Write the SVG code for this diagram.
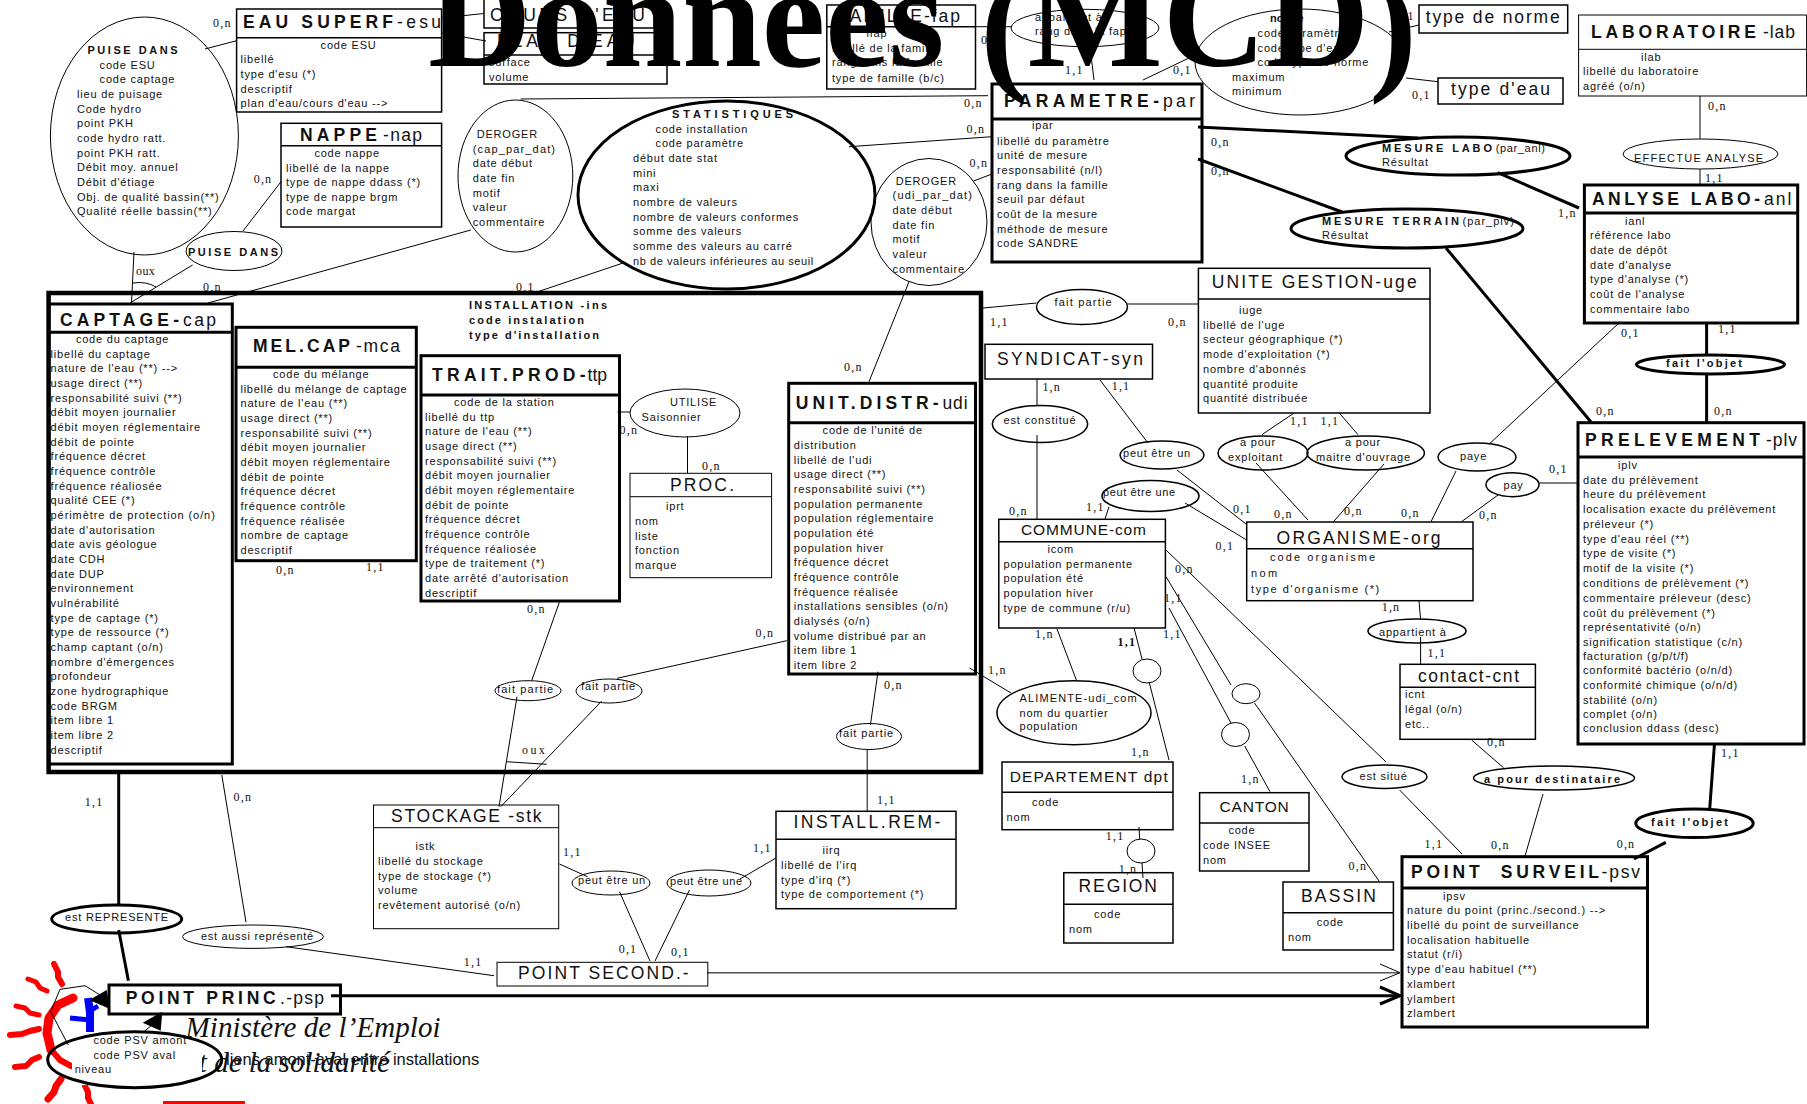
<svg xmlns="http://www.w3.org/2000/svg" width="1807" height="1104" viewBox="0 0 1807 1104">
<style>
text{font-family:"Liberation Sans",Arial,sans-serif;fill:#111}
.b{font-size:11px;letter-spacing:.8px}
.bb{font-size:11px;font-weight:bold}
.h{font-size:17.5px}
.hs{font-size:15.5px}
.hb{font-size:17.5px;font-weight:bold}
.c{font-family:"Liberation Serif","Times New Roman",serif;font-size:12px;letter-spacing:1.2px}
.s1,.s2,.s3,.s4{fill:none;stroke:#000}
.s1{stroke-width:1}
.s2{stroke-width:1.5}
.s3{stroke-width:3}
.s4{stroke-width:4.5}
.g{fill:none;stroke:#555;stroke-width:1.5}
.r{fill:none;stroke:#f00;stroke-linecap:round;stroke-linejoin:round}
</style>
<rect width="1807" height="1104" fill="#fff"/>

<g id="logo">
<polyline class="r" stroke-width="9" points="73,998 58,1005 49,1018 47,1033 51,1050"/>
<polyline class="r" stroke-width="6" points="54,964 58,972 58,977 62,984"/>
<polyline class="r" stroke-width="5" points="28,979 36,982 40,988 47,991"/>
<polyline class="r" stroke-width="5" points="16,1006 25,1008 30,1013 39,1015"/>
<polyline class="r" stroke-width="6" points="10,1035 22,1034 30,1031 39,1029"/>
<polyline class="r" stroke-width="6" points="15,1067 26,1066 32,1060 39,1057"/>
<polyline class="r" stroke-width="7" points="48,1099 54,1092 56,1086 61,1079"/>
<polyline class="r" stroke-width="6" points="85,1086 88,1092 88,1098 91,1104"/>
<polyline class="r" stroke-width="6" points="53,1052 60,1060 71,1066"/>
<rect x="163" y="1101" width="82" height="3" fill="#f00"/>
<polyline fill="none" stroke="#00f" stroke-width="8" points="88,998 90,1012 90,1032"/>
<polyline fill="none" stroke="#00f" stroke-width="5" points="70,1018 90,1020"/>
<polyline fill="none" stroke="#00f" stroke-width="5" points="90,1011 98,1006"/>
</g>
<text x="185.6" y="1036.7" font-size="29" font-style="italic" style="font-family:'Liberation Serif',serif" textLength="255">Ministère de l’Emploi</text>
<text x="186" y="1072" font-size="29" font-style="italic" style="font-family:'Liberation Serif',serif">et de la solidarité</text>

<g id="connectors">
<line class="s1" x1="205" y1="49" x2="236.6" y2="40.7"/>
<line class="s1" x1="441" y1="18" x2="484" y2="13.5"/>
<line class="s1" x1="441" y1="33" x2="486" y2="41"/>
<line class="s1" x1="243" y1="231" x2="281" y2="181.7"/>
<line class="s1" x1="134" y1="252" x2="131.5" y2="303"/>
<line class="s1" x1="192.6" y1="265" x2="130" y2="303"/>
<path class="s1" d="M133 283Q146 281 156 287"/>
<line class="s1" x1="470.8" y1="230" x2="208" y2="303"/>
<line class="s1" x1="520.6" y1="99" x2="988" y2="95.7"/>
<line class="s1" x1="849" y1="146.7" x2="992" y2="136.7"/>
<line class="s1" x1="623" y1="263" x2="537" y2="292"/>
<line class="s1" x1="973.5" y1="181" x2="992" y2="174"/>
<line class="s1" x1="909" y1="281.7" x2="869" y2="381.7"/>
<line class="s1" x1="975.5" y1="26.7" x2="1012" y2="26.7"/>
<line class="s1" x1="1090" y1="47" x2="1094" y2="80"/>
<line class="s1" x1="1143" y1="80" x2="1191" y2="57"/>
<line class="s1" x1="1389" y1="32" x2="1419" y2="25"/>
<line class="s1" x1="1406" y1="78" x2="1438" y2="81.7"/>
<line class="s3" x1="1198" y1="127" x2="1418" y2="138"/>
<line class="s3" x1="1497.7" y1="172.7" x2="1579" y2="208"/>
<line class="s3" x1="1198" y1="159" x2="1342" y2="212"/>
<line class="s3" x1="1446" y1="248" x2="1591" y2="422"/>
<line class="s1" x1="1700" y1="96" x2="1700" y2="139"/>
<line class="s1" x1="1700" y1="169" x2="1700" y2="185"/>
<line class="s3" x1="1706.6" y1="323" x2="1706.6" y2="355"/>
<line class="s3" x1="1706.6" y1="374" x2="1706.6" y2="422"/>
<line class="s1" x1="1620" y1="322" x2="1490" y2="443.3"/>
<line class="s1" x1="983" y1="308" x2="1036.6" y2="303"/>
<line class="s1" x1="1127" y1="304" x2="1198" y2="304"/>
<line class="s1" x1="1037" y1="379" x2="1037" y2="405.7"/>
<line class="g" x1="1037" y1="435" x2="1037" y2="519"/>
<line class="s1" x1="1100" y1="380" x2="1148" y2="443"/>
<line class="s1" x1="1109" y1="506.7" x2="1105" y2="519"/>
<line class="s1" x1="1177" y1="470" x2="1246" y2="524"/>
<line class="s1" x1="1185" y1="503" x2="1246.7" y2="540"/>
<line class="s1" x1="1294.5" y1="412.7" x2="1262" y2="434.7"/>
<line class="s1" x1="1339" y1="412.7" x2="1358" y2="434.7"/>
<line class="s1" x1="1256" y1="463" x2="1308" y2="520"/>
<line class="s1" x1="1384" y1="464" x2="1333.5" y2="521.7"/>
<line class="s1" x1="1456" y1="471" x2="1431" y2="521.7"/>
<line class="s1" x1="1539" y1="483" x2="1577" y2="483"/>
<line class="s1" x1="1498" y1="495" x2="1461.5" y2="521.7"/>
<line class="s1" x1="1419" y1="600.7" x2="1420.6" y2="619.3"/>
<line class="s1" x1="1420.6" y1="637" x2="1420.6" y2="664"/>
<line class="s1" x1="1166" y1="550" x2="1386" y2="762"/>
<line class="s1" x1="1399.6" y1="790" x2="1462" y2="854"/>
<line class="s1" x1="1166" y1="576.7" x2="1231" y2="685"/>
<line class="s1" x1="1254.5" y1="703" x2="1379" y2="881"/>
<line class="s1" x1="1169" y1="608" x2="1231" y2="723"/>
<line class="s1" x1="1244.7" y1="746" x2="1270" y2="791.7"/>
<line class="s1" x1="1134" y1="627.7" x2="1142" y2="659"/>
<line class="s1" x1="1149.4" y1="683" x2="1169" y2="760"/>
<line class="s1" x1="1139" y1="827" x2="1139.7" y2="839"/>
<line class="s1" x1="1142" y1="863" x2="1143" y2="878"/>
<line class="s1" x1="1057" y1="629" x2="1076.6" y2="680.7"/>
<line class="s1" x1="969.6" y1="668" x2="1011" y2="693"/>
<line class="s1" x1="1471.6" y1="740" x2="1503.5" y2="767.7"/>
<line class="s1" x1="1543" y1="794" x2="1525" y2="856"/>
<line class="s3" x1="1714.4" y1="745" x2="1709.7" y2="809"/>
<line class="s3" x1="1665.8" y1="842.3" x2="1634" y2="859"/>
<line class="s1" x1="617.5" y1="412" x2="630" y2="412"/>
<line class="s1" x1="687.5" y1="436" x2="687.5" y2="473"/>
<line class="s1" x1="559.5" y1="601.7" x2="531.7" y2="680.7"/>
<line class="s1" x1="517" y1="696.7" x2="499" y2="806.7"/>
<line class="s1" x1="617" y1="678.3" x2="786.8" y2="640.7"/>
<line class="s1" x1="601.7" y1="701" x2="500.8" y2="806.7"/>
<path class="s1" d="M506 761.7L546.7 764.3"/>
<line class="s1" x1="878" y1="671.7" x2="870.4" y2="725"/>
<line class="g" x1="867.3" y1="750" x2="867.3" y2="811.7"/>
<line class="s1" x1="776" y1="858" x2="740" y2="879"/>
<line class="s1" x1="689.5" y1="890" x2="655" y2="961"/>
<line class="s1" x1="619.5" y1="891.7" x2="650" y2="961"/>
<line class="s1" x1="559.5" y1="864" x2="587.5" y2="876.7"/>
<line class="s3" x1="118.7" y1="772" x2="118.7" y2="905"/>
<line class="s3" x1="118.7" y1="930" x2="128.4" y2="980.7"/>
<line class="s1" x1="221.8" y1="775" x2="246" y2="922.3"/>
<line class="s1" x1="286" y1="946.7" x2="494" y2="975.7"/>
<line class="g" x1="707" y1="972.7" x2="1400" y2="972.7"/>
<polyline class="s1" points="1380,964 1400,972.7 1380,981"/>
<line class="s3" x1="331" y1="995.7" x2="1400" y2="995.7"/>
<polyline class="s3" points="1380,987 1400,995.7 1380,1004"/>
<polyline class="s1" points="68.3,1045 50.7,1011.7 60,989.3 85,985.7 100,995"/>
<polygon fill="#000" points="89.3,1000 106.7,990 110,1009"/>
<polygon fill="#000" points="162.3,1011.7 142.7,1022.7 160.7,1030.7"/>
<line class="s1" x1="144" y1="1031.7" x2="152" y2="1025"/>
</g>

<g id="cardinalities" class="c">
<text class="c" x="213" y="27">0,n</text><text class="c" x="253.7" y="183">0,n</text>
<text class="c" x="136" y="275" textLength="20">oux</text><text class="c" x="203" y="291">0,n</text><text class="c" x="516" y="291">0,1</text>
<text class="c" x="981" y="44">0,1</text><text class="c" x="1065" y="74">1,1</text><text class="c" x="1173" y="74">0,1</text>
<text class="c" x="1396" y="20">0,1</text><text class="c" x="1412" y="99">0,1</text>
<text class="c" x="964" y="107">0,n</text><text class="c" x="966.5" y="133">0,n</text><text class="c" x="969.6" y="167">0,n</text>
<text class="c" x="1211" y="146">0,n</text><text class="c" x="1211" y="175">0,n</text>
<text class="c" x="1708" y="110">0,n</text><text class="c" x="1705" y="182">1,1</text><text class="c" x="1558" y="217">1,n</text>
<text class="c" x="1621" y="337">0,1</text><text class="c" x="1718" y="333">1,1</text>
<text class="c" x="1596" y="415">0,n</text><text class="c" x="1714" y="415">0,n</text>
<text class="c" x="990" y="326">1,1</text><text class="c" x="1168" y="326">0,n</text>
<text class="c" x="844" y="371">0,n</text><text class="c" x="1042.4" y="391">1,n</text><text class="c" x="1111.7" y="390">1,1</text>
<text class="c" x="1290" y="425">1,1</text><text class="c" x="1320.6" y="425">1,1</text>
<text class="c" x="619.5" y="434">0,n</text><text class="c" x="702" y="470">0,n</text>
<text class="c" x="1009" y="515">0,n</text><text class="c" x="1086" y="511">1,1</text>
<text class="c" x="1233" y="513">0,1</text><text class="c" x="1215.6" y="550">0,1</text>
<text class="c" x="1274" y="518">0,n</text><text class="c" x="1344" y="515">0,n</text><text class="c" x="1401" y="517">0,n</text>
<text class="c" x="1549" y="473">0,1</text><text class="c" x="1479" y="519">0,n</text>
<text class="c" x="1175" y="573">0,n</text><text class="c" x="1164" y="602">1,1</text><text class="c" x="1163" y="638">1,1</text>
<text class="c" x="1035" y="638">1,n</text><text class="c" x="1117.5" y="646" font-weight="bold">1,1</text>
<text class="c" x="988" y="674">1,n</text><text class="c" x="1131" y="756">1,n</text>
<text class="c" x="1381.7" y="611">1,n</text><text class="c" x="1427.6" y="657">1,1</text>
<text class="c" x="276" y="574">0,n</text><text class="c" x="366" y="571">1,1</text><text class="c" x="527" y="613">0,n</text>
<text class="c" x="755.6" y="637">0,n</text><text class="c" x="884" y="689">0,n</text><text class="c" x="877" y="804">1,1</text>
<text class="c" x="522" y="754" textLength="24">oux</text>
<text class="c" x="84.8" y="806">1,1</text><text class="c" x="233.5" y="801">0,n</text><text class="c" x="463.8" y="966">1,1</text>
<text class="c" x="563" y="856">1,1</text><text class="c" x="753" y="852">1,1</text>
<text class="c" x="618.7" y="953">0,1</text><text class="c" x="671" y="956">0,1</text>
<text class="c" x="1105.8" y="840">1,1</text><text class="c" x="1118.7" y="873">1,n</text>
<text class="c" x="1241" y="783">1,n</text><text class="c" x="1348.6" y="870">0,n</text>
<text class="c" x="1487" y="746">0,n</text><text class="c" x="1721" y="757">1,1</text>
<text class="c" x="1424.5" y="848">1,1</text><text class="c" x="1491" y="849">0,n</text><text class="c" x="1616.7" y="848">0,n</text>
</g>

<g id="installation">
<rect class="s4" x="48.6" y="293" width="932.4" height="479"/>
<text class="bb" x="469" y="308.7" textLength="138">INSTALLATION -ins</text>
<text class="bb" x="469" y="324" textLength="115">code instalation</text>
<text class="bb" x="469" y="339" textLength="130">type d'installation</text>
</g>

<g id="puise-dans-assoc">
<ellipse class="s1" cx="144.4" cy="136" rx="94" ry="119"/>
<text class="bb" x="87.5" y="54" textLength="90">PUISE DANS</text>
<text class="b" x="99.6" y="69">code ESU</text><text class="b" x="99.6" y="83">code captage</text>
<text class="b" x="77" y="98">lieu de puisage</text><text class="b" x="77" y="112.7">Code hydro</text><text class="b" x="77" y="127">point PKH</text>
<text class="b" x="77" y="142">code hydro ratt.</text><text class="b" x="77" y="157">point PKH ratt.</text><text class="b" x="77" y="171">Débit moy. annuel</text>
<text class="b" x="77" y="186">Débit d'étiage</text><text class="b" x="77" y="201">Obj. de qualité bassin(**)</text><text class="b" x="77" y="215">Qualité réelle bassin(**)</text>
</g>
<g id="puise-dans-small">
<ellipse class="s1" cx="234" cy="251" rx="48" ry="19.5"/>
<text class="bb" x="188" y="256" textLength="90">PUISE DANS</text>
</g>

<g id="eau-superf">
<rect class="s2" x="236.6" y="9" width="205" height="103"/><line class="s2" x1="236.6" y1="37.7" x2="441.6" y2="37.7"/>
<text class="hb" x="243" y="28" textLength="150">EAU SUPERF</text><text class="h" x="397" y="28" textLength="44">-esu</text>
<text class="b" x="320.6" y="49">code ESU</text><text class="b" x="240.6" y="63">libellé</text><text class="b" x="240.6" y="78">type d'esu (*)</text>
<text class="b" x="240.6" y="93">descriptif</text><text class="b" x="240.6" y="107">plan d'eau/cours d'eau --&gt;</text>
</g>
<g id="cours-eau">
<path class="s2" d="M484 0V28H654V0"/>
<text class="h" x="490" y="21" textLength="155">COURS D'EAU</text>
</g>
<g id="plan-eau">
<rect class="s2" x="484" y="32.7" width="183" height="51.3"/><line class="s2" x1="484" y1="55" x2="667" y2="55"/>
<text class="h" x="497" y="47" textLength="138">PLAN D'EAU</text>
<text class="b" x="489" y="66">surface</text><text class="b" x="489" y="81">volume</text>
</g>
<g id="nappe">
<rect class="s2" x="281" y="123.3" width="160.6" height="103.7"/><line class="s2" x1="281" y1="145.7" x2="441.6" y2="145.7"/>
<text class="hb" x="300" y="141" textLength="77">NAPPE</text><text class="h" x="383" y="141" textLength="39">-nap</text>
<text class="b" x="314.4" y="157">code nappe</text><text class="b" x="286" y="171.7">libellé de la nappe</text>
<text class="b" x="286" y="186" textLength="135">type de nappe ddass (*)</text><text class="b" x="286" y="201">type de nappe brgm</text><text class="b" x="286" y="215">code margat</text>
</g>
<g id="deroger-cap">
<ellipse class="s1" cx="515.4" cy="176" rx="57.4" ry="76"/>
<text class="b" x="476.7" y="137.7">DEROGER</text><text class="b" x="472.8" y="153" textLength="83">(cap_par_dat)</text><text class="b" x="472.8" y="167">date début</text>
<text class="b" x="472.8" y="182">date fin</text><text class="b" x="472.8" y="196.7">motif</text><text class="b" x="472.8" y="211">valeur</text><text class="b" x="472.8" y="226">commentaire</text>
</g>
<g id="statistiques">
<ellipse class="s3" cx="726.5" cy="195" rx="148.5" ry="94"/>
<text class="bb" x="672" y="118" textLength="121">STATISTIQUES</text>
<text class="b" x="655.6" y="132.7">code installation</text><text class="b" x="655.6" y="147">code paramètre</text>
<text class="b" x="633" y="161.7">début date stat</text><text class="b" x="633" y="176.7">mini</text><text class="b" x="633" y="191">maxi</text>
<text class="b" x="633" y="206">nombre de valeurs</text><text class="b" x="633" y="220.7" textLength="166">nombre de valeurs conformes</text><text class="b" x="633" y="235">somme des valeurs</text>
<text class="b" x="633" y="249.7">somme des valeurs au carré</text><text class="b" x="633" y="265" textLength="181">nb de valeurs inférieures au seuil</text>
</g>
<g id="famille">
<rect class="s2" x="826.8" y="5" width="148.7" height="84"/><line class="s2" x1="826.8" y1="26.7" x2="975.5" y2="26.7"/>
<text class="h" x="838" y="21.7" textLength="122">FAMILLE-fap</text>
<text class="b" x="866.5" y="37">ifap</text><text class="b" x="832" y="52">libellé de la famille</text>
<text class="b" x="832" y="66">rang dans la famille</text><text class="b" x="832" y="82">type de famille (b/c)</text>
</g>
<g id="appartient-a-fap">
<ellipse class="s1" cx="1085" cy="28" rx="74" ry="18.7"/>
<text class="b" x="1035" y="20.7">appartient à:</text><text class="b" x="1035" y="35">rang dans la fap</text>
</g>
<g id="parametre">
<rect class="s3" x="992" y="84" width="210" height="178"/><line class="s3" x1="992" y1="119" x2="1202" y2="119"/>
<text class="hb" x="1004" y="107" textLength="155">PARAMETRE-</text><text class="h" x="1163" y="107" textLength="32">par</text>
<text class="b" x="1032" y="129">ipar</text><text class="b" x="997" y="145">libellé du paramètre</text><text class="b" x="997" y="159">unité de mesure</text>
<text class="b" x="997" y="174">responsabilité (n/l)</text><text class="b" x="997" y="189">rang dans la famille</text><text class="b" x="997" y="203">seuil par défaut</text>
<text class="b" x="997" y="218">coût de la mesure</text><text class="b" x="997" y="232.7">méthode de mesure</text><text class="b" x="997" y="247">code SANDRE</text>
</g>
<g id="deroger-udi">
<ellipse class="s1" cx="929" cy="222" rx="58" ry="63.5"/>
<text class="b" x="895.7" y="185">DEROGER</text><text class="b" x="892.6" y="199" textLength="80">(udi_par_dat)</text><text class="b" x="892.6" y="214">date début</text>
<text class="b" x="892.6" y="229">date fin</text><text class="b" x="892.6" y="243">motif</text><text class="b" x="892.6" y="257.7">valeur</text><text class="b" x="892.6" y="272.7">commentaire</text>
</g>
<g id="norme">
<ellipse class="s1" cx="1300" cy="62" rx="105" ry="53"/>
<text class="bb" x="1270" y="22">norme</text>
<text class="b" x="1257.6" y="37">code paramètre</text><text class="b" x="1257.6" y="52">code type d'eau</text><text class="b" x="1257.6" y="66">code type de norme</text>
<text class="b" x="1232" y="81">maximum</text><text class="b" x="1232" y="95">minimum</text>
</g>
<g id="type-norme">
<rect class="s2" x="1419" y="5" width="148.7" height="28"/>
<text class="h" x="1425.7" y="22.7" textLength="134">type de norme</text>
</g>
<g id="type-eau">
<rect class="s2" x="1438" y="78" width="125" height="26"/>
<text class="h" x="1451" y="95" textLength="99">type d'eau</text>
</g>
<g id="laboratoire">
<rect class="s1" x="1578.6" y="15" width="228" height="81"/><line class="s1" x1="1578.6" y1="49.3" x2="1807" y2="49.3"/>
<text class="hb" x="1591" y="38" textLength="165">LABORATOIRE</text><text class="h" x="1763" y="38" textLength="32">-lab</text>
<text class="b" x="1641" y="61">ilab</text><text class="b" x="1583" y="75">libellé du laboratoire</text><text class="b" x="1583" y="90">agréé (o/n)</text>
</g>
<g id="effectue-analyse">
<ellipse class="s1" cx="1700.5" cy="154" rx="77.5" ry="15"/>
<text class="b" x="1634" y="162" textLength="130">EFFECTUE ANALYSE</text>
</g>
<g id="mesure-labo">
<ellipse class="s3" cx="1458" cy="156" rx="112" ry="19"/>
<text class="bb" x="1382" y="152" textLength="110">MESURE LABO</text><text class="b" x="1495.7" y="152" textLength="50">(par_anl)</text>
<text class="b" x="1382" y="166">Résultat</text>
</g>
<g id="mesure-terrain">
<ellipse class="s3" cx="1407" cy="228.5" rx="116" ry="19.5"/>
<text class="bb" x="1322" y="225" textLength="137">MESURE TERRAIN</text><text class="b" x="1462.6" y="225" textLength="52">(par_plv)</text>
<text class="b" x="1322" y="239">Résultat</text>
</g>
<g id="analyse-labo">
<rect class="s3" x="1584.4" y="185" width="213.3" height="138"/><line class="s3" x1="1584.4" y1="213" x2="1797.7" y2="213"/>
<text class="hb" x="1592" y="205" textLength="168">ANLYSE LABO-</text><text class="h" x="1764" y="205" textLength="27.5">anl</text>
<text class="b" x="1625" y="225">ianl</text><text class="b" x="1590" y="239">référence labo</text><text class="b" x="1590" y="254">date de dépôt</text>
<text class="b" x="1590" y="269">date d'analyse</text><text class="b" x="1590" y="283">type d'analyse (*)</text><text class="b" x="1590" y="298">coût de l'analyse</text><text class="b" x="1590" y="313">commentaire labo</text>
</g>
<g id="fait-objet-1">
<ellipse class="s3" cx="1710.5" cy="364.5" rx="74" ry="9.5"/>
<text class="bb" x="1666" y="367" textLength="76">fait l'objet</text>
</g>
<g id="fait-partie-uge">
<ellipse class="s2" cx="1082" cy="307" rx="45.5" ry="17.5"/>
<text class="b" x="1054.5" y="306" textLength="58">fait partie</text>
</g>
<g id="unite-gestion">
<rect class="s2" x="1198.4" y="268.3" width="231.6" height="144.7"/><line class="s2" x1="1198.4" y1="299" x2="1430" y2="299"/>
<text class="h" x="1211.7" y="288" textLength="205">UNITE GESTION-uge</text>
<text class="b" x="1239" y="314">iuge</text><text class="b" x="1203" y="329">libellé de l'uge</text><text class="b" x="1203" y="343">secteur géographique (*)</text>
<text class="b" x="1203" y="358">mode d'exploitation (*)</text><text class="b" x="1203" y="372.7">nombre d'abonnés</text><text class="b" x="1203" y="387.7">quantité produite</text><text class="b" x="1203" y="401.7">quantité distribuée</text>
</g>
<g id="syndicat">
<rect class="s2" x="985" y="344.3" width="167.5" height="34.7"/>
<text class="h" x="997" y="365" textLength="146">SYNDICAT-syn</text>
</g>
<g id="est-constitue">
<ellipse class="s2" cx="1040" cy="424" rx="47.7" ry="18.5"/>
<text class="b" x="1003.5" y="424" textLength="73">est constitué</text>
</g>
<g id="peut-etre-un-1">
<ellipse class="s2" cx="1162" cy="455" rx="42" ry="14"/>
<text class="b" x="1123" y="457" textLength="68">peut être un</text>
</g>
<g id="peut-etre-une-1">
<ellipse class="s2" cx="1150.5" cy="496" rx="48.5" ry="15.5"/>
<text class="b" x="1103" y="496" textLength="73">peut être une</text>
</g>
<g id="a-pour-exploitant">
<ellipse class="s2" cx="1263" cy="453" rx="45" ry="17"/>
<text class="b" x="1240" y="446">a pour</text><text class="b" x="1228" y="461">exploitant</text>
</g>
<g id="a-pour-maitre">
<ellipse class="s2" cx="1365.7" cy="453" rx="58.7" ry="17"/>
<text class="b" x="1345" y="446">a pour</text><text class="b" x="1316" y="461" textLength="95">maitre d'ouvrage</text>
</g>
<g id="paye">
<ellipse class="s2" cx="1477" cy="457" rx="39" ry="14"/>
<text class="b" x="1460" y="460">paye</text>
</g>
<g id="pay">
<ellipse class="s2" cx="1512.5" cy="484.7" rx="26.5" ry="12"/>
<text class="b" x="1503.5" y="489">pay</text>
</g>
<g id="prelevement">
<rect class="s3" x="1578" y="422.7" width="226" height="321.3"/><line class="s3" x1="1578" y1="457" x2="1804" y2="457"/>
<text class="hb" x="1585" y="446" textLength="175">PRELEVEMENT</text><text class="h" x="1766" y="446" textLength="31">-plv</text>
<text class="b" x="1618" y="469">iplv</text><text class="b" x="1583" y="484">date du prélèvement</text><text class="b" x="1583" y="498">heure du prélèvement</text>
<text class="b" x="1583" y="513" textLength="193">localisation exacte du prélèvement</text><text class="b" x="1583" y="528">préleveur (*)</text><text class="b" x="1583" y="543">type d'eau réel (**)</text>
<text class="b" x="1583" y="557">type de visite (*)</text><text class="b" x="1583" y="572">motif de la visite (*)</text><text class="b" x="1583" y="587">conditions de prélèvement (*)</text>
<text class="b" x="1583" y="602">commentaire préleveur (desc)</text><text class="b" x="1583" y="617">coût du prélèvement (*)</text><text class="b" x="1583" y="631">représentativité (o/n)</text>
<text class="b" x="1583" y="646">signification statistique (c/n)</text><text class="b" x="1583" y="660">facturation (g/p/t/f)</text><text class="b" x="1583" y="674">conformité bactério (o/n/d)</text>
<text class="b" x="1583" y="689">conformité chimique (o/n/d)</text><text class="b" x="1583" y="704">stabilité (o/n)</text><text class="b" x="1583" y="718">complet (o/n)</text><text class="b" x="1583" y="732">conclusion ddass (desc)</text>
</g>
<g id="organisme">
<rect class="s2" x="1246.7" y="522" width="226.3" height="78.7"/><line class="s2" x1="1246.7" y1="548.7" x2="1473" y2="548.7"/>
<text class="h" x="1276.6" y="544" textLength="164">ORGANISME-org</text>
<text class="b" x="1270" y="561" textLength="106">code organisme</text><text class="b" x="1251" y="577" textLength="27">nom</text><text class="b" x="1251" y="593" textLength="129">type d'organisme (*)</text>
</g>
<g id="appartient-a">
<ellipse class="s2" cx="1417" cy="631" rx="49" ry="12"/>
<text class="b" x="1379" y="636">appartient à</text>
</g>
<g id="contact">
<rect class="s2" x="1400" y="664.3" width="135.4" height="75"/><line class="s2" x1="1400" y1="687.3" x2="1535.4" y2="687.3"/>
<text class="h" x="1418" y="682.3" textLength="101">contact-cnt</text>
<text class="b" x="1405" y="697.7">icnt</text><text class="b" x="1405" y="712.7">légal (o/n)</text><text class="b" x="1405" y="727.7">etc..</text>
</g>
<g id="captage">
<rect class="s3" x="48.6" y="304" width="183.7" height="460"/><line class="s3" x1="48.6" y1="332.3" x2="232.3" y2="332.3"/>
<text class="hb" x="60" y="325.7" textLength="119">CAPTAGE-</text><text class="h" x="183" y="325.7" textLength="33">cap</text>
<text class="b" x="75.9" y="343">code du captage</text>
<text class="b" x="50.6" y="357.7">libellé du captage</text><text class="b" x="50.6" y="372.4">nature de l'eau (**) --&gt;</text><text class="b" x="50.6" y="387">usage direct (**)</text>
<text class="b" x="50.6" y="401.7">responsabilité suivi (**)</text><text class="b" x="50.6" y="416.4">débit moyen journalier</text><text class="b" x="50.6" y="431">débit moyen réglementaire</text>
<text class="b" x="50.6" y="445.7">débit de pointe</text><text class="b" x="50.6" y="460.4">fréquence décret</text><text class="b" x="50.6" y="475">fréquence contrôle</text>
<text class="b" x="50.6" y="489.7">fréquence réaliosée</text><text class="b" x="50.6" y="504.4">qualité CEE (*)</text><text class="b" x="50.6" y="519" textLength="165">périmètre de protection (o/n)</text>
<text class="b" x="50.6" y="533.7">date d'autorisation</text><text class="b" x="50.6" y="548.4">date avis géologue</text><text class="b" x="50.6" y="563">date CDH</text>
<text class="b" x="50.6" y="577.7">date DUP</text><text class="b" x="50.6" y="592.4">environnement</text><text class="b" x="50.6" y="607">vulnérabilité</text>
<text class="b" x="50.6" y="621.7">type de captage (*)</text><text class="b" x="50.6" y="636.4">type de ressource (*)</text><text class="b" x="50.6" y="651">champ captant (o/n)</text>
<text class="b" x="50.6" y="665.7">nombre d'émergences</text><text class="b" x="50.6" y="680.4">profondeur</text><text class="b" x="50.6" y="695">zone hydrographique</text>
<text class="b" x="50.6" y="709.7">code BRGM</text><text class="b" x="50.6" y="724.4">item libre 1</text><text class="b" x="50.6" y="739">item libre 2</text><text class="b" x="50.6" y="753.7">descriptif</text>
</g>
<g id="mel-cap">
<rect class="s3" x="236" y="327.3" width="180.3" height="233.4"/><line class="s3" x1="236" y1="367.3" x2="416.3" y2="367.3"/>
<text class="hb" x="253" y="352.3" textLength="97">MEL.CAP</text><text class="h" x="356" y="352.3" textLength="44">-mca</text>
<text class="b" x="273" y="378">code du mélange</text>
<text class="b" x="240.5" y="392.7" textLength="167">libellé du mélange de captage</text><text class="b" x="240.5" y="407.4">nature de l'eau (**)</text><text class="b" x="240.5" y="422">usage direct (**)</text>
<text class="b" x="240.5" y="436.7">responsabilité suivi (**)</text><text class="b" x="240.5" y="451.4">débit moyen journalier</text><text class="b" x="240.5" y="466">débit moyen réglementaire</text>
<text class="b" x="240.5" y="480.7">débit de pointe</text><text class="b" x="240.5" y="495.4">fréquence décret</text><text class="b" x="240.5" y="510">fréquence contrôle</text>
<text class="b" x="240.5" y="524.7">fréquence réalisée</text><text class="b" x="240.5" y="539.4">nombre de captage</text><text class="b" x="240.5" y="554">descriptif</text>
</g>
<g id="trait-prod">
<rect class="s3" x="421" y="355.7" width="198.5" height="245.3"/><line class="s3" x1="421" y1="395" x2="619.5" y2="395"/>
<text class="hb" x="432" y="381" textLength="153.6">TRAIT.PROD-</text><text class="h" x="587.5" y="381" textLength="19.5">ttp</text>
<text class="b" x="454" y="406">code de la station</text>
<text class="b" x="425" y="420.7">libellé du ttp</text><text class="b" x="425" y="435.4">nature de l'eau (**)</text><text class="b" x="425" y="450">usage direct (**)</text>
<text class="b" x="425" y="464.7">responsabilité suivi (**)</text><text class="b" x="425" y="479.4">débit moyen journalier</text><text class="b" x="425" y="494">débit moyen réglementaire</text>
<text class="b" x="425" y="508.7">débit de pointe</text><text class="b" x="425" y="523.4">fréquence décret</text><text class="b" x="425" y="538">fréquence contrôle</text>
<text class="b" x="425" y="552.7">fréquence réaliosée</text><text class="b" x="425" y="567.4">type de traitement (*)</text><text class="b" x="425" y="582" textLength="144">date arrêté d'autorisation</text><text class="b" x="425" y="596.7">descriptif</text>
</g>
<g id="utilise">
<ellipse class="s1" cx="685" cy="413" rx="55" ry="24"/>
<text class="b" x="670" y="406">UTILISE</text><text class="b" x="641.6" y="421">Saisonnier</text>
</g>
<g id="proc">
<rect class="s1" x="630" y="473.3" width="141.6" height="104.4"/><line class="s1" x1="630" y1="496.7" x2="771.6" y2="496.7"/>
<text class="h" x="670" y="491" textLength="64">PROC.</text>
<text class="b" x="666" y="510">iprt</text><text class="b" x="635" y="525">nom</text><text class="b" x="635" y="540">liste</text><text class="b" x="635" y="554">fonction</text><text class="b" x="635" y="569">marque</text>
</g>
<g id="unit-distr">
<rect class="s3" x="788.7" y="383.3" width="186.8" height="290.7"/><line class="s3" x1="788.7" y1="422.7" x2="975.5" y2="422.7"/>
<text class="hb" x="795.7" y="409" textLength="142.8">UNIT.DISTR-</text><text class="h" x="942.4" y="409" textLength="25.3">udi</text>
<text class="b" x="822.6" y="434">code de l'unité de</text>
<text class="b" x="793.8" y="449">distribution</text><text class="b" x="793.8" y="463.7">libellé de l'udi</text><text class="b" x="793.8" y="478.3">usage direct (**)</text>
<text class="b" x="793.8" y="493">responsabilité suivi (**)</text><text class="b" x="793.8" y="507.7">population permanente</text><text class="b" x="793.8" y="522.3">population réglementaire</text>
<text class="b" x="793.8" y="537">population été</text><text class="b" x="793.8" y="551.7">population hiver</text><text class="b" x="793.8" y="566.3">fréquence décret</text>
<text class="b" x="793.8" y="581">fréquence contrôle</text><text class="b" x="793.8" y="595.7">fréquence réalisée</text><text class="b" x="793.8" y="610.3" textLength="155">installations sensibles (o/n)</text>
<text class="b" x="793.8" y="625">dialysés (o/n)</text><text class="b" x="793.8" y="639.7">volume distribué par an</text><text class="b" x="793.8" y="654.3">item libre 1</text><text class="b" x="793.8" y="669">item libre 2</text>
</g>
<g id="commune">
<rect class="s2" x="998.8" y="519.3" width="166.6" height="108.7"/><line class="s2" x1="998.8" y1="541.7" x2="1165.4" y2="541.7"/>
<text class="hs" x="1021" y="535" textLength="125">COMMUNE-com</text>
<text class="b" x="1047.5" y="552.7">icom</text><text class="b" x="1003.5" y="567.7">population permanente</text><text class="b" x="1003.5" y="581.7">population été</text>
<text class="b" x="1003.5" y="596.7">population hiver</text><text class="b" x="1003.5" y="611.7">type de commune (r/u)</text>
</g>
<g id="circle-1"><ellipse class="s1" cx="1147" cy="671" rx="14" ry="12"/></g>
<g id="circle-2"><ellipse class="s1" cx="1246" cy="693.7" rx="14" ry="10"/></g>
<g id="circle-3"><ellipse class="s1" cx="1235.5" cy="734.5" rx="14" ry="12"/></g>
<g id="circle-4"><ellipse class="s1" cx="1141" cy="851" rx="14" ry="12"/></g>
<g id="alimente">
<ellipse class="s2" cx="1074" cy="712.7" rx="77" ry="32"/>
<text class="b" x="1019.5" y="701.7" textLength="118">ALIMENTE-udi_com</text><text class="b" x="1019.5" y="716.7">nom du quartier</text><text class="b" x="1019.5" y="730">population</text>
</g>
<g id="fait-partie-1">
<ellipse class="s1" cx="528" cy="690.7" rx="33" ry="10"/>
<text class="b" x="497" y="693" textLength="57">fait partie</text>
</g>
<g id="fait-partie-2">
<ellipse class="s1" cx="609" cy="691" rx="33" ry="12"/>
<text class="b" x="581" y="690" textLength="55">fait partie</text>
</g>
<g id="fait-partie-3">
<ellipse class="s1" cx="869" cy="736.5" rx="32.5" ry="13"/>
<text class="b" x="839" y="737" textLength="55">fait partie</text>
</g>
<g id="departement">
<rect class="s2" x="1002" y="762" width="171" height="67.7"/><line class="s2" x1="1002" y1="792.3" x2="1173" y2="792.3"/>
<text class="hs" x="1009.7" y="781.7" textLength="158">DEPARTEMENT dpt</text>
<text class="b" x="1032" y="806">code</text><text class="b" x="1006.6" y="821">nom</text>
</g>
<g id="region">
<rect class="s2" x="1063.8" y="872.7" width="109.2" height="70.3"/><line class="s2" x1="1063.8" y1="904.3" x2="1173" y2="904.3"/>
<text class="h" x="1078.6" y="892.3" textLength="78.4">REGION</text>
<text class="b" x="1094" y="918">code</text><text class="b" x="1069" y="933">nom</text>
</g>
<g id="canton">
<rect class="s2" x="1199.6" y="792.7" width="109.4" height="78.3"/><line class="s2" x1="1199.6" y1="823" x2="1309" y2="823"/>
<text class="hs" x="1219.5" y="811.7" textLength="69.2">CANTON</text>
<text class="b" x="1228.4" y="834">code</text><text class="b" x="1203" y="849">code INSEE</text><text class="b" x="1203" y="864">nom</text>
</g>
<g id="bassin">
<rect class="s2" x="1283" y="882" width="110.4" height="68"/><line class="s2" x1="1283" y1="912.7" x2="1393.4" y2="912.7"/>
<text class="h" x="1301" y="901.7" textLength="75">BASSIN</text>
<text class="b" x="1316.7" y="926">code</text><text class="b" x="1288" y="941">nom</text>
</g>
<g id="est-situe">
<ellipse class="s2" cx="1384.5" cy="776.7" rx="42.5" ry="11.7"/>
<text class="b" x="1359.5" y="780">est situé</text>
</g>
<g id="a-pour-destinataire">
<ellipse class="s2" cx="1554" cy="778" rx="80.5" ry="12"/>
<text class="bb" x="1484" y="783" textLength="136">a pour destinataire</text>
</g>
<g id="fait-objet-2">
<ellipse class="s3" cx="1694.5" cy="823.3" rx="58.7" ry="14.3"/>
<text class="bb" x="1651" y="825.7" textLength="77">fait l'objet</text>
</g>
<g id="point-surveil">
<rect class="s3" x="1402" y="856.7" width="245.5" height="170.3"/><line class="s3" x1="1402" y1="888" x2="1647.5" y2="888"/>
<text class="hb" x="1411" y="877.7" textLength="188" style="white-space:pre">POINT  SURVEIL</text><text class="h" x="1601.5" y="877.7" textLength="38.5">-psv</text>
<text class="b" x="1443" y="900">ipsv</text><text class="b" x="1407" y="914" textLength="199">nature du point (princ./second.) --&gt;</text><text class="b" x="1407" y="929">libellé du point de surveillance</text>
<text class="b" x="1407" y="944">localisation habituelle</text><text class="b" x="1407" y="958">statut (r/i)</text><text class="b" x="1407" y="973">type d'eau habituel (**)</text>
<text class="b" x="1407" y="988">xlambert</text><text class="b" x="1407" y="1003">ylambert</text><text class="b" x="1407" y="1017">zlambert</text>
</g>
<g id="install-rem">
<rect class="s2" x="776" y="811.3" width="180" height="97.4"/><line class="s2" x1="776" y1="839.3" x2="956" y2="839.3"/>
<text class="h" x="793.4" y="827.7" textLength="147">INSTALL.REM-</text>
<text class="b" x="822.6" y="853.7">iirq</text><text class="b" x="781" y="868.7">libellé de l'irq</text><text class="b" x="781" y="883.7">type d'irq (*)</text><text class="b" x="781" y="897.7">type de comportement (*)</text>
</g>
<g id="peut-etre-une-2">
<ellipse class="s1" cx="709" cy="883" rx="42" ry="13"/>
<text class="b" x="670" y="885" textLength="73">peut être une</text>
</g>
<g id="peut-etre-un-2">
<ellipse class="s1" cx="611" cy="883" rx="39" ry="12"/>
<text class="b" x="578" y="884" textLength="68">peut être un</text>
</g>
<g id="stockage">
<rect class="s1" x="373.5" y="805" width="185.2" height="123.7"/><line class="s1" x1="373.5" y1="827.7" x2="558.7" y2="827.7"/>
<text class="h" x="391" y="821.7" textLength="150.6">STOCKAGE -stk</text>
<text class="b" x="415.6" y="850">istk</text><text class="b" x="378" y="865">libellé du stockage</text><text class="b" x="378" y="880">type de stockage (*)</text>
<text class="b" x="378" y="894">volume</text><text class="b" x="378" y="909">revêtement autorisé (o/n)</text>
</g>
<g id="est-represente">
<ellipse class="s3" cx="116.7" cy="919" rx="65" ry="14"/>
<text class="b" x="65" y="921" textLength="104">est REPRESENTE</text>
</g>
<g id="est-aussi-represente">
<ellipse class="s1" cx="253" cy="936.7" rx="70.5" ry="11.7"/>
<text class="b" x="201" y="940" textLength="113">est aussi représenté</text>
</g>
<g id="point-second">
<rect class="s1" x="497" y="962.3" width="210.8" height="23.7"/>
<text class="h" x="518" y="979.3" textLength="170.7">POINT SECOND.-</text>
</g>
<g id="point-princ">
<rect class="s3" x="109" y="985" width="231.5" height="29"/>
<text class="hb" x="125.7" y="1004" textLength="150">POINT PRINC</text><text class="h" x="280" y="1004" textLength="44">.-psp</text>
</g>
<g id="liens-amont-aval">
<rect x="72" y="1037" width="130" height="48" fill="#fff"/>
<ellipse class="s3" cx="134.7" cy="1059.7" rx="87" ry="28"/>
<text class="b" x="93.4" y="1044">code PSV amont</text><text class="b" x="93.4" y="1059">code PSV aval</text><text class="b" x="74.7" y="1073">niveau</text>
<text x="226" y="1065" font-size="16.5">liens amont-aval entre installations</text>
</g>
<text x="428" y="66" font-size="143" font-weight="bold" style="font-family:'Liberation Serif',serif;fill:#000">Données <tspan dy="8">(</tspan><tspan dy="-8">MCD</tspan><tspan dy="8">)</tspan></text>
</svg>
